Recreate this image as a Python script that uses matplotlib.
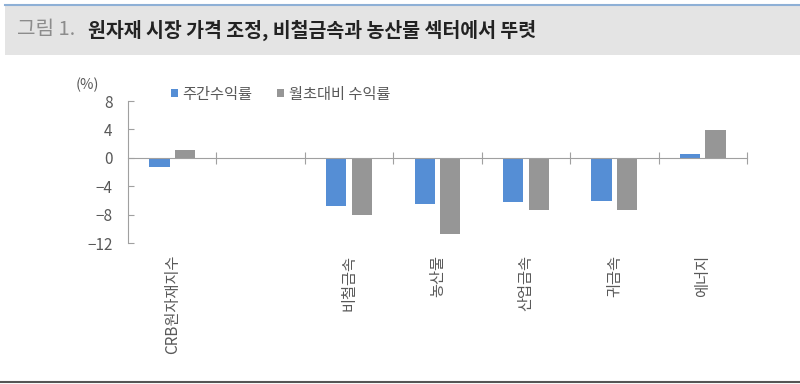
import matplotlib.pyplot as plt
import numpy as np
from matplotlib.patches import Rectangle
from matplotlib.lines import Line2D
import matplotlib.transforms as mtransforms

plt.rcParams['font.family'] = ['Noto Sans CJK KR', 'DejaVu Sans']

categories = ['CRB원자재지수', '', '비철금속', '농산물', '산업금속', '귀금속', '에너지']
weekly = [-1.3, np.nan, -6.8, -6.5, -6.2, -6.1, 0.5]
month_to_date = [1.1, np.nan, -8.1, -10.8, -7.4, -7.3, 3.9]
series_names = ['주간수익률', '월초대비 수익률']
yticks = [8, 4, 0, -4, -8, -12]

blue = '#558ED5'
grey = '#969696'
txt = '#595959'

fig = plt.figure(figsize=(8, 3.84), dpi=100)

# title band
fig.patches.append(Rectangle((5 / 800, 1 - 55 / 384), 795 / 800, 49 / 384,
                             transform=fig.transFigure, facecolor='#e4e4e4',
                             edgecolor='none', zorder=0))
fig.lines.append(Line2D([5 / 800, 1], [1 - 4.5 / 384] * 2, transform=fig.transFigure,
                        color='#8eb0d6', lw=1.5))
fig.lines.append(Line2D([0, 1], [1 - 382 / 384] * 2, transform=fig.transFigure,
                        color='#555555', lw=1.5))
fig.text(17 / 800, 1 - 30 / 384, '그림 1.', fontsize=14.5, color='#8c8c8c', va='center')
fig.text(88 / 800, 1 - 30 / 384, '원자재 시장 가격 조정, 비철금속과 농산물 섹터에서 뚜렷',
         fontsize=14, color='#222222', fontweight='bold', va='center')

ax = fig.add_axes([128 / 800, 1 - 243 / 384, (747 - 128) / 800, 142 / 384])
x = np.arange(len(categories))
w = 0.23
ax.bar(x - 0.145, weekly, w, color=blue, label=series_names[0], zorder=2)
ax.bar(x + 0.145, month_to_date, w, color=grey, label=series_names[1], zorder=2)

ax.set_xlim(-0.5, len(categories) - 0.5)
ax.set_ylim(-12, 8)
ax.set_yticks(yticks)
ax.set_yticklabels([str(v).replace('-', '−') for v in yticks], fontsize=11, color=txt)
ax.tick_params(axis='y', direction='in', length=4, color='#a0a0a0', pad=11)

for s in ['top', 'right']:
    ax.spines[s].set_visible(False)
ax.spines['left'].set_color('#a0a0a0')
ax.spines['bottom'].set_position(('data', 0))
ax.spines['bottom'].set_color('#a0a0a0')
ax.set_xticks(np.arange(len(categories)) + 0.5)
ax.set_xticklabels([])
ax.tick_params(axis='x', direction='inout', length=8, color='#a0a0a0')

trans = mtransforms.blended_transform_factory(ax.transData, ax.transAxes)
for xi, lab in zip(x, categories):
    ax.text(xi, -0.085, lab, transform=trans, rotation=90, ha='center', va='top',
            fontsize=11, color=txt)

ax.text(-0.085, 1.11, '(%)', transform=ax.transAxes, fontsize=10.5, color=txt,
        ha='left', va='center')
ax.legend(loc='upper left', bbox_to_anchor=(0.06, 1.15), ncol=2, frameon=False,
          fontsize=11, handlelength=0.45, handleheight=0.45, handletextpad=0.3,
          columnspacing=1.6, labelcolor=txt, borderaxespad=0)

fig.savefig('out.png', dpi=100)
